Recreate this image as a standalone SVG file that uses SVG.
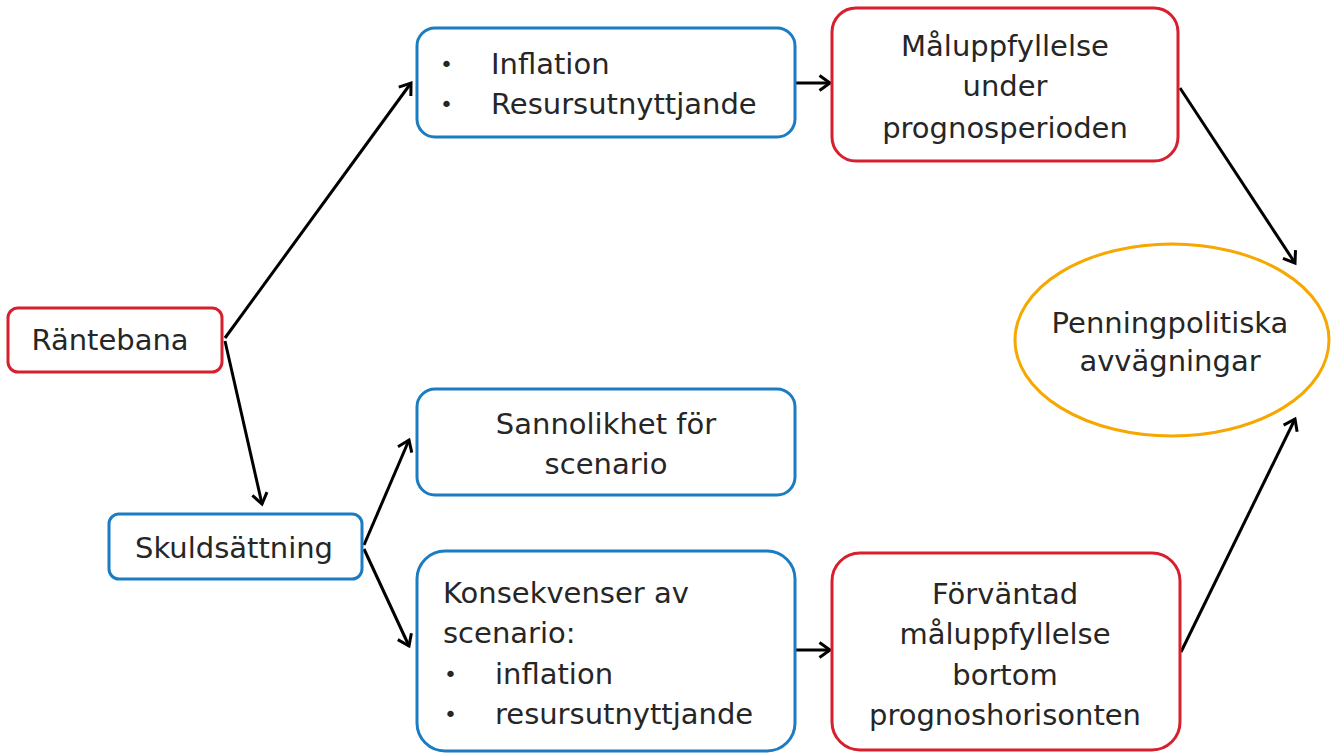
<svg xmlns="http://www.w3.org/2000/svg" width="1332" height="755" viewBox="0 0 1332 755">
<style>
.red{fill:#fff;stroke:#d7202e;stroke-width:3}
.blue{fill:#fff;stroke:#1b7cc2;stroke-width:3}
.orange{fill:#fff;stroke:#f7a800;stroke-width:3}
text{font-family:"DejaVu Sans","Noto Sans",sans-serif;font-size:29px;fill:#262626}
.b{font-size:22px}
.c{text-anchor:middle}
.conn line{stroke:#000;stroke-width:3;marker-end:url(#ah)}
</style>
<defs>
<marker id="ah" markerWidth="16" markerHeight="18" refX="12" refY="9" orient="auto" markerUnits="userSpaceOnUse">
<path d="M1.5,1.5 L12,9 L1.5,16.5" fill="none" stroke="#000" stroke-width="3"/>
</marker>
</defs>
<g class="conn" id="connectors">
<line x1="225" y1="338" x2="411" y2="83"/>
<line x1="225" y1="341" x2="262" y2="504"/>
<line x1="364" y1="545" x2="409" y2="440"/>
<line x1="364" y1="549" x2="409" y2="646"/>
<line x1="796" y1="83" x2="830" y2="83"/>
<line x1="796" y1="650" x2="830" y2="650"/>
<line x1="1180" y1="88" x2="1295" y2="263"/>
<line x1="1181" y1="652" x2="1295" y2="419"/>
</g>
<g id="rantebana">
<rect class="red" x="8" y="308" width="214" height="64" rx="10"/>
<text class="c" x="110" y="350">Räntebana</text>
</g>
<g id="skuldsattning">
<rect class="blue" x="109" y="514" width="253" height="65" rx="10"/>
<text class="c" x="234" y="558">Skuldsättning</text>
</g>
<g id="inflation">
<rect class="blue" x="417" y="28" width="378" height="109" rx="18"/>
<text class="b" x="440" y="72">•</text><text x="491" y="74">Inflation</text>
<text class="b" x="440" y="112">•</text><text x="491" y="114">Resursutnyttjande</text>
</g>
<g id="maluppfyllelse">
<rect class="red" x="832" y="8" width="346" height="153" rx="24"/>
<text class="c" x="1005" y="56">Måluppfyllelse</text>
<text class="c" x="1005" y="96">under</text>
<text class="c" x="1005" y="138">prognosperioden</text>
</g>
<g id="penningpolitiska">
<ellipse class="orange" cx="1172" cy="340" rx="157" ry="96"/>
<text class="c" x="1170" y="333">Penningpolitiska</text>
<text class="c" x="1170" y="371">avvägningar</text>
</g>
<g id="sannolikhet">
<rect class="blue" x="417" y="389" width="378" height="106" rx="18"/>
<text class="c" x="606" y="434">Sannolikhet för</text>
<text class="c" x="606" y="474">scenario</text>
</g>
<g id="konsekvenser">
<rect class="blue" x="417" y="551" width="378" height="200" rx="28"/>
<text x="443" y="603">Konsekvenser av</text>
<text x="443" y="643">scenario:</text>
<text class="b" x="444" y="682">•</text><text x="495" y="684">inflation</text>
<text class="b" x="444" y="722">•</text><text x="495" y="724">resursutnyttjande</text>
</g>
<g id="forvantad">
<rect class="red" x="832" y="553" width="348" height="197" rx="28"/>
<text class="c" x="1005" y="604">Förväntad</text>
<text class="c" x="1005" y="644">måluppfyllelse</text>
<text class="c" x="1005" y="685">bortom</text>
<text class="c" x="1005" y="725">prognoshorisonten</text>
</g>
</svg>
